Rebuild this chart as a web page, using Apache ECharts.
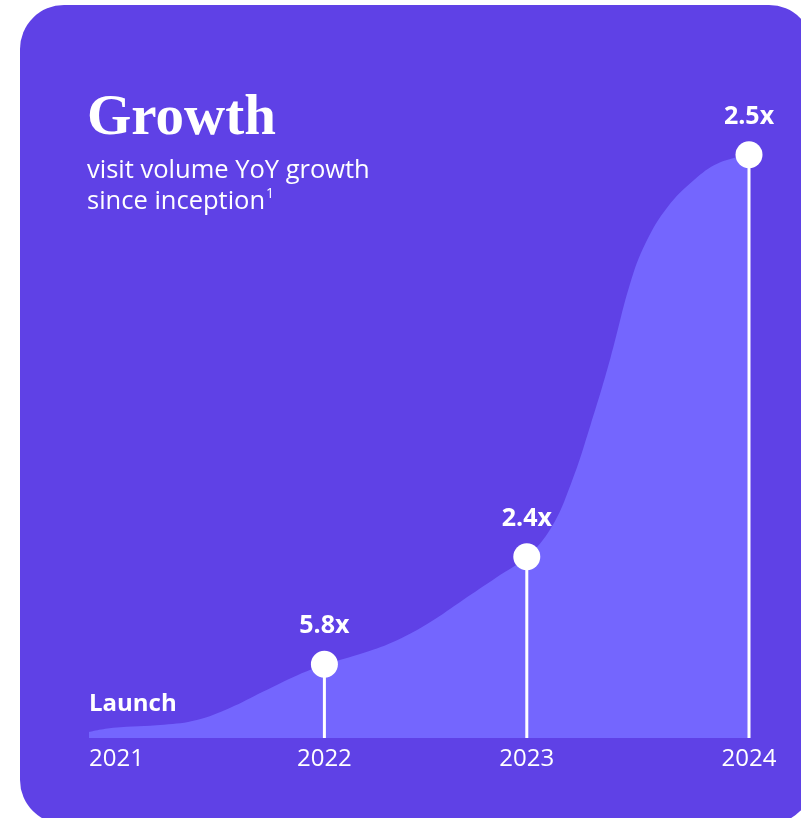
<!DOCTYPE html>
<html>
<head>
<meta charset="utf-8">
<script src="https://cdn.jsdelivr.net/npm/echarts@6/dist/echarts.min.js"></script>
<style>
html,body{margin:0;padding:0;background:#ffffff;}
#chart{width:801px;height:818px;}
</style>
</head>
<body>
<div id="chart"></div>
<script>
// ---- data ----
const yearLabels = ['2021', '2022', '2023', '2024'];
const yearPositions = [2021, 2022.07, 2022.99, 2024];
const milestoneX = [2022.07, 2022.99, 2024];
const milestoneY = [12.3, 30.2, 97.2];
const growthLabels = ['5.8x', '2.4x', '2.5x'];
const curveX = [2021.0, 2021.11, 2021.34, 2021.49, 2021.64, 2021.79, 2021.95, 2022.07, 2022.25, 2022.40, 2022.55, 2022.70, 2022.85, 2022.99, 2023.10, 2023.19, 2023.28, 2023.37, 2023.46, 2023.53, 2023.63, 2023.75, 2023.86, 2024.0];
const curveY = [1.0, 1.7, 2.2, 3.0, 5.0, 7.7, 10.5, 12.2, 14.2, 16.3, 19.3, 23.0, 26.7, 30.2, 35.0, 42.3, 52.2, 63.3, 75.8, 82.5, 88.5, 93.0, 95.8, 97.2];

const CARD = '#5F41E6';
const AREA = '#7466FE';
const FONT = 'Open Sans';

const curve = curveX.map((x, i) => [x, curveY[i]]);
const milestones = milestoneX.map((x, i) => [x, milestoneY[i]]);

const chart = echarts.init(document.getElementById('chart'), null, {renderer: 'canvas'});
chart.setOption({
  animation: false,
  backgroundColor: '#ffffff',
  graphic: {
    elements: [
      {type: 'rect', z: -10, shape: {x: 20, y: 5, width: 793, height: 819, r: 44}, style: {fill: CARD}},
      {type: 'text', z: 10, left: 89, top: 692, style: {text: 'Launch', fill: '#ffffff', font: 'bold 24px "Open Sans"'}}
    ]
  },
  title: [
    {text: 'Growth', left: 87, top: 91, padding: 0,
     textStyle: {fontFamily: 'Liberation Serif', fontWeight: 'bold', fontSize: 57, color: '#ffffff'}},
    {text: 'visit volume YoY growth\nsince inception{sup|1}', left: 87, top: 155, padding: 0,
     textStyle: {fontFamily: FONT, fontWeight: 'normal', fontSize: 25.5, lineHeight: 31, color: '#ffffff',
       rich: {sup: {fontFamily: FONT, fontSize: 14, color: '#ffffff', padding: [0, 0, 14, 1]}}}}
  ],
  grid: {left: 89, right: 52, top: 138, bottom: 80},
  xAxis: {
    type: 'value', min: 2021, max: 2024,
    axisLine: {show: false}, axisTick: {show: false}, splitLine: {show: false},
    axisLabel: {
      customValues: yearPositions,
      alignMinLabel: 'left', alignMaxLabel: 'center',
      margin: 9,
      color: '#ffffff', fontFamily: FONT, fontSize: 24,
      formatter: v => yearLabels[yearPositions.indexOf(v)]
    }
  },
  yAxis: {type: 'value', min: 0, max: 100, show: false},
  series: [
    {type: 'line', data: curve, smooth: 0.4, symbol: 'none',
     lineStyle: {width: 0}, areaStyle: {color: AREA, opacity: 1}, z: 1},
    {type: 'bar', data: milestones, barWidth: 3, itemStyle: {color: '#ffffff', opacity: 1}, z: 3},
    {type: 'scatter', data: milestones, symbolSize: 27, itemStyle: {color: '#ffffff', opacity: 1}, z: 4,
     label: {show: true, position: 'top', distance: 12, color: '#ffffff', opacity: 1, fontFamily: FONT,
       fontWeight: 'bold', fontSize: 25, formatter: p => growthLabels[p.dataIndex]}}
  ]
});
</script>
</body>
</html>
